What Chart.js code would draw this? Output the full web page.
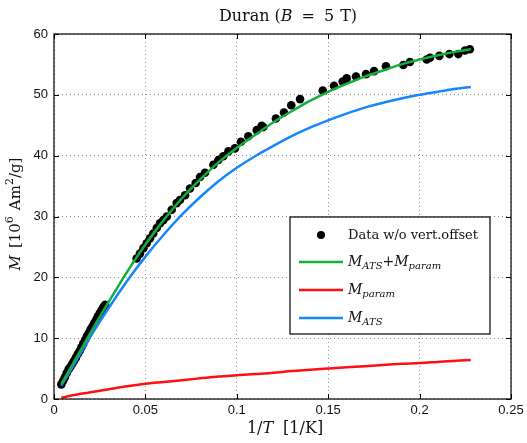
<!DOCTYPE html>
<html>
<head>
<meta charset="utf-8">
<script src="https://cdn.jsdelivr.net/npm/chart.js@4.4.1/dist/chart.umd.min.js"></script>
<style>
  html, body { margin: 0; padding: 0; background: #fff; }
  #wrap { width: 527px; height: 443px; position: relative; }
</style>
</head>
<body>
<div id="wrap"><canvas id="chart" width="527" height="443"></canvas></div>
<script>
// axis ticks
const xTicks = [0, 0.05, 0.1, 0.15, 0.2, 0.25];
const yTicks = [0, 10, 20, 30, 40, 50, 60];

// fitted curves (1/T in 1/K, M in 10^6 Am^2/g)
const fitX = [0.004, 0.01, 0.02, 0.03, 0.04, 0.05, 0.06, 0.07, 0.08, 0.09, 0.10, 0.11, 0.12,
  0.13, 0.14, 0.15, 0.16, 0.17, 0.18, 0.19, 0.20, 0.21, 0.22, 0.228];
const fitTotal = [2.5, 5.6, 10.9, 16.0, 20.9, 25.4, 29.4, 33.0, 36.1, 38.9, 41.3, 43.4, 45.5,
  47.3, 49.0, 50.5, 51.8, 53.0, 54.0, 55.0, 55.8, 56.5, 57.1, 57.5];
const fitParam = [0.2, 0.6, 1.1, 1.6, 2.1, 2.5, 2.8, 3.1, 3.4, 3.7, 3.9, 4.1, 4.3,
  4.6, 4.8, 5.0, 5.2, 5.4, 5.6, 5.8, 5.9, 6.1, 6.3, 6.4];
const fitATS = [2.2, 5.2, 10.3, 15.0, 19.4, 23.4, 27.0, 30.3, 33.2, 35.8, 38.0, 39.9, 41.6,
  43.2, 44.6, 45.8, 46.9, 47.9, 48.7, 49.4, 50.0, 50.5, 51.0, 51.3];

// measured data w/o vertical offset
const dataX = [0.004, 0.005, 0.006, 0.007, 0.008, 0.009, 0.010, 0.011, 0.012, 0.013, 0.014,
  0.015, 0.016, 0.017, 0.018, 0.019, 0.020, 0.021, 0.022, 0.023, 0.024, 0.025, 0.026, 0.027, 0.028,
  0.0452, 0.0470, 0.0489, 0.0507, 0.0525, 0.0543, 0.0562, 0.0580, 0.0598, 0.0617, 0.0644, 0.0671,
  0.0689, 0.0717, 0.0744, 0.0775, 0.0799, 0.0826, 0.0872, 0.0899, 0.0926, 0.0954, 0.0990, 0.1023,
  0.1063, 0.1109, 0.1136, 0.1145, 0.1214, 0.1258, 0.1298, 0.1346, 0.1470, 0.1532, 0.1579, 0.1601,
  0.1652, 0.1707, 0.1751, 0.1816, 0.1911, 0.1947, 0.2039, 0.2057, 0.2108, 0.2163, 0.2212, 0.2248, 0.2275];
const dataM = [2.4, 3.0, 3.6, 4.3, 4.9, 5.3, 5.8, 6.3, 6.8, 7.4, 7.9,
  8.5, 9.1, 9.7, 10.3, 10.8, 11.4, 11.9, 12.5, 13.0, 13.6, 14.1, 14.6, 15.1, 15.5,
  23.1, 23.9, 24.8, 25.6, 26.4, 27.2, 28.1, 28.9, 29.4, 30.0, 31.1, 32.2,
  32.7, 33.5, 34.6, 35.5, 36.5, 37.2, 38.5, 39.3, 39.9, 40.7, 41.2, 42.3,
  43.2, 44.2, 44.9, 44.7, 46.1, 47.1, 48.3, 49.3, 50.7, 51.5, 52.2, 52.7,
  53.0, 53.4, 53.9, 54.7, 54.9, 55.4, 55.8, 56.1, 56.4, 56.7, 56.7, 57.3, 57.5];

const GREEN = "#12b03a";
const RED = "#ff1010";
const BLUE = "#1586ff";
const SERIF = "'DejaVu Serif'";

function pts(xs, ys) {
  return xs.map((x, i) => ({ x, y: ys[i] }));
}

// draw a run of text pieces with mixed fonts, extra gaps and sub/superscripts
function rich(ctx, segs, x, y, align) {
  let total = 0;
  segs.forEach((s) => { ctx.font = s.f; total += (s.dx || 0) + ctx.measureText(s.t).width; });
  let cx = align === "center" ? x - total / 2 : x;
  ctx.textAlign = "left";
  ctx.textBaseline = "alphabetic";
  segs.forEach((s) => {
    ctx.font = s.f;
    cx += s.dx || 0;
    ctx.fillText(s.t, cx, y + (s.dy || 0));
    cx += ctx.measureText(s.t).width;
  });
}

const up = (size) => `${size}px ${SERIF}`;
const it = (size) => `italic ${size}px ${SERIF}`;

const frame = {
  id: "frame",
  afterDraw(chart) {
    const { ctx, chartArea: a, scales } = chart;
    ctx.save();
    ctx.strokeStyle = "#000";
    ctx.lineWidth = 1.2;
    ctx.strokeRect(a.left, a.top, a.right - a.left, a.bottom - a.top);
    // inward ticks on all four sides
    ctx.lineWidth = 1;
    ctx.beginPath();
    xTicks.forEach((v) => {
      const p = Math.round(scales.x.getPixelForValue(v)) + 0.5;
      ctx.moveTo(p, a.bottom); ctx.lineTo(p, a.bottom - 5);
      ctx.moveTo(p, a.top); ctx.lineTo(p, a.top + 5);
    });
    yTicks.forEach((v) => {
      const p = Math.round(scales.y.getPixelForValue(v)) + 0.5;
      ctx.moveTo(a.left, p); ctx.lineTo(a.left + 5, p);
      ctx.moveTo(a.right, p); ctx.lineTo(a.right - 5, p);
    });
    ctx.stroke();

    ctx.fillStyle = "#111";
    // title
    rich(ctx, [
      { t: "Duran", f: up(16) },
      { t: "(", f: up(16), dx: 5 },
      { t: "B", f: it(16) },
      { t: "=", f: up(16), dx: 9 },
      { t: "5", f: up(16), dx: 9 },
      { t: "T", f: up(16), dx: 6 },
      { t: ")", f: up(16) }
    ], 288, 21, "center");
    // x label
    rich(ctx, [
      { t: "1/", f: up(16) },
      { t: "T", f: it(16) },
      { t: "[1/K]", f: up(16), dx: 10 }
    ], 285, 433, "center");
    // y label
    ctx.save();
    ctx.translate(20, 214);
    ctx.rotate(-Math.PI / 2);
    rich(ctx, [
      { t: "M", f: it(15) },
      { t: "[10", f: up(15), dx: 7 },
      { t: "6", f: up(11), dy: -7 },
      { t: "Am", f: up(15), dx: 6 },
      { t: "2", f: up(11), dy: -7 },
      { t: "/g]", f: up(15) }
    ], 0, 0, "center");
    ctx.restore();

    // legend box
    const lx = a.right - 221, ly = a.bottom - 182, lw = 200, lh = 117;
    ctx.fillStyle = "#fff";
    ctx.fillRect(lx, ly, lw, lh);
    ctx.strokeStyle = "#000";
    ctx.lineWidth = 1.2;
    ctx.strokeRect(lx, ly, lw, lh);
    const rows = [ly + 18, ly + 45, ly + 73, ly + 101];
    const tx = lx + 58;
    ctx.fillStyle = "#000";
    ctx.beginPath();
    ctx.arc(lx + 31, rows[0], 4, 0, Math.PI * 2);
    ctx.fill();
    [[GREEN, rows[1]], [RED, rows[2]], [BLUE, rows[3]]].forEach(([c, y]) => {
      ctx.strokeStyle = c;
      ctx.lineWidth = 2.5;
      ctx.beginPath();
      ctx.moveTo(lx + 9, y); ctx.lineTo(lx + 53, y);
      ctx.stroke();
    });
    ctx.fillStyle = "#111";
    rich(ctx, [{ t: "Data w/o vert.offset", f: up(13) }], tx, rows[0] + 4, "left");
    rich(ctx, [
      { t: "M", f: it(14) }, { t: "ATS", f: it(10), dy: 3 },
      { t: "+", f: up(14) },
      { t: "M", f: it(14) }, { t: "param", f: it(10), dy: 3 }
    ], tx, rows[1] + 4, "left");
    rich(ctx, [{ t: "M", f: it(14) }, { t: "param", f: it(10), dy: 3 }], tx, rows[2] + 4, "left");
    rich(ctx, [{ t: "M", f: it(14) }, { t: "ATS", f: it(10), dy: 3 }], tx, rows[3] + 4, "left");
    ctx.restore();
  }
};

const fmt = (v) => String(Number(v.toFixed(2)));

new Chart(document.getElementById("chart"), {
  type: "scatter",
  data: {
    datasets: [
      { label: "Data w/o vert.offset", data: pts(dataX, dataM), backgroundColor: "#000", borderColor: "#000",
        pointRadius: 4.3, pointBorderWidth: 0, order: 4 },
      { label: "M_ATS+M_param", data: pts(fitX, fitTotal), showLine: true, borderColor: GREEN,
        borderWidth: 2.5, pointRadius: 0, cubicInterpolationMode: "monotone", order: 1 },
      { label: "M_param", data: pts(fitX, fitParam), showLine: true, borderColor: RED,
        borderWidth: 2.5, pointRadius: 0, cubicInterpolationMode: "monotone", order: 2 },
      { label: "M_ATS", data: pts(fitX, fitATS), showLine: true, borderColor: BLUE,
        borderWidth: 2.5, pointRadius: 0, cubicInterpolationMode: "monotone", order: 3 }
    ]
  },
  options: {
    responsive: false,
    animation: false,
    devicePixelRatio: 1,
    layout: { padding: { top: 34, right: 16, left: 0, bottom: 0 } },
    plugins: { legend: { display: false }, tooltip: { enabled: false } },
    scales: {
      x: {
        type: "linear", min: 0, max: 0.25,
        afterBuildTicks(s) { s.ticks = xTicks.map((v) => ({ value: v })); },
        afterFit(s) { s.height = 44; s.paddingLeft = 0; s.paddingRight = 0; },
        ticks: { callback: fmt, color: "#111", padding: 4, maxRotation: 0,
          font: { family: "'Liberation Sans'", size: 13 } },
        grid: { color: "#8c8c8c", lineWidth: 1, drawTicks: false },
        border: { display: false, dash: [1, 3] }
      },
      y: {
        type: "linear", min: 0, max: 60,
        afterBuildTicks(s) { s.ticks = yTicks.map((v) => ({ value: v })); },
        afterFit(s) { s.width = 54; },
        ticks: { color: "#111", padding: 6, font: { family: "'Liberation Sans'", size: 13 } },
        grid: { color: "#8c8c8c", lineWidth: 1, drawTicks: false },
        border: { display: false, dash: [1, 3] }
      }
    }
  },
  plugins: [frame]
});
</script>
</body>
</html>
